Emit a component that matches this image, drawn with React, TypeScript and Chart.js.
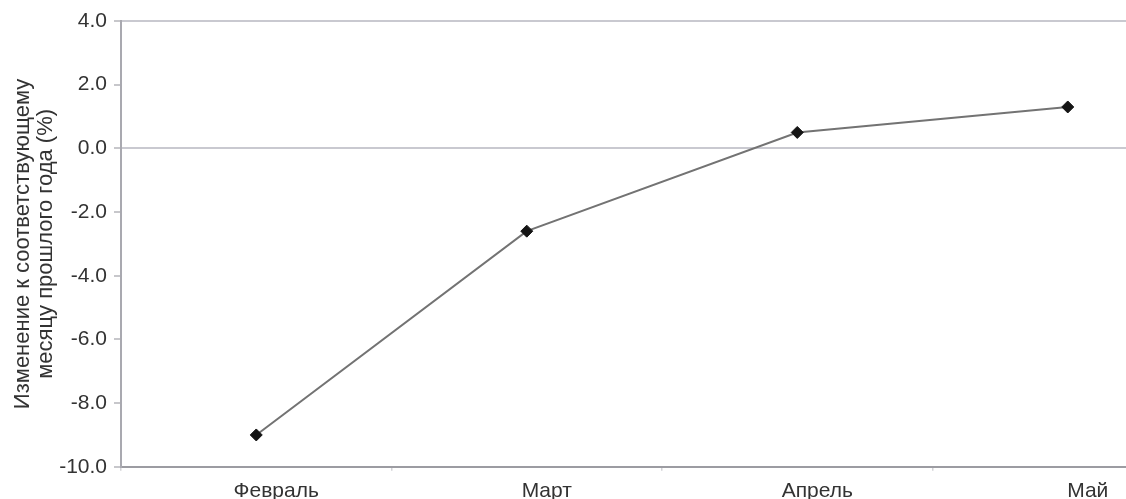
import React, { useEffect, useRef } from "react";
import { Chart, registerables } from "chart.js";

Chart.register(...registerables);

const categories: string[] = ["Февраль", "Март", "Апрель", "Май"];
const values: number[] = [-9.0, -2.6, 0.5, 1.3];
const yTitle: string[] = ["Изменение к соответствующему", "месяцу прошлого года (%)"];
const yMin = -10;
const yMax = 4;
const yStep = 2;

export default function App() {
  const ref = useRef<HTMLCanvasElement | null>(null);

  useEffect(() => {
    if (!ref.current) return;
    const family = "'Liberation Sans', Arial, sans-serif";
    const font = { family, size: 21 };
    const chart = new Chart(ref.current, {
      type: "line",
      data: {
        labels: categories,
        datasets: [
          {
            data: values,
            borderColor: "#737373",
            borderWidth: 2,
            pointStyle: "rectRot",
            pointRadius: 6,
            pointBackgroundColor: "#141414",
            pointBorderColor: "#141414",
            pointBorderWidth: 1,
            tension: 0,
            fill: false,
          },
        ],
      },
      options: {
        responsive: false,
        animation: false,
        devicePixelRatio: 1,
        layout: { padding: { top: 21, right: 4, bottom: 2, left: 0 } },
        plugins: { legend: { display: false }, tooltip: { enabled: false }, title: { display: false } },
        scales: {
          x: {
            type: "category",
            offset: true,
            grid: {
              display: true,
              offset: true,
              drawOnChartArea: false,
              drawTicks: true,
              tickLength: 4,
              color: "#d4d4d8",
              lineWidth: 1.5,
            },
            border: { display: true, color: "#9c9ca2", width: 2 },
            ticks: {
              color: "#333333",
              font,
              padding: 8,
              labelOffset: 20,
              maxRotation: 0,
              autoSkip: false,
            },
          },
          y: {
            type: "linear",
            min: yMin,
            max: yMax,
            afterFit: (scale: any) => {
              scale.width = 121;
            },
            grid: {
              color: (ctx: any) =>
                ctx.tick && (ctx.tick.value === 0 || ctx.tick.value === yMax) ? "#c9c9d0" : "rgba(0,0,0,0)",
              lineWidth: 2,
              drawTicks: true,
              tickLength: 7,
              tickColor: "#b4b4ba",
              tickWidth: 1.5,
            },
            border: { display: true, color: "#a9a9b0", width: 2 },
            ticks: {
              stepSize: yStep,
              color: "#333333",
              font,
              padding: 7,
              callback: (v: any) => Number(v).toFixed(1),
            },
            title: {
              display: true,
              text: yTitle,
              color: "#333333",
              font: { family, size: 22, lineHeight: "23px" as any },
              padding: { top: 11, bottom: 0 },
            },
          },
        },
      },
    });
    return () => chart.destroy();
  }, []);

  return (
    <div style={{ position: "fixed", left: 0, top: 0, width: 1126, height: 499, overflow: "hidden", background: "#fff" }}>
      <canvas ref={ref} width={1210} height={514} style={{ display: "block" }} />
    </div>
  );
}
